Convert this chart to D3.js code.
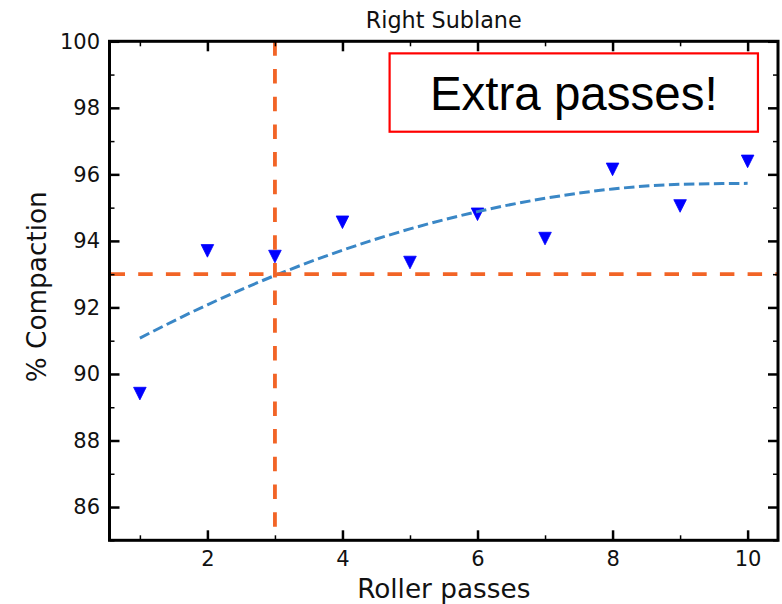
<!DOCTYPE html>
<html>
<head>
<meta charset="utf-8">
<script src="https://cdn.jsdelivr.net/npm/d3@7"></script>
<style>
  body { margin: 0; background: #fff; }
  svg { display: block; }
  .tick text { font-family: "DejaVu Sans", sans-serif; font-size: 21px; fill: #111; }
  .axis-label { font-family: "DejaVu Sans", sans-serif; font-size: 26.3px; fill: #111; }
  .title { font-family: "DejaVu Sans", sans-serif; font-size: 22.3px; fill: #111; }
  .note { font-family: "Liberation Sans", Arial, sans-serif; font-size: 47.5px; fill: #000; }
</style>
</head>
<body>
<div id="chart"></div>
<script>
// values
const passes = [1, 2, 3, 4, 5, 6, 7, 8, 9, 10];
const compaction = [89.41, 93.70, 93.53, 94.56, 93.35, 94.80, 94.07, 96.15, 95.05, 96.39];
const fitCompaction = [91.08, 92.08, 92.96, 93.72, 94.36, 94.88, 95.28, 95.56, 95.70, 95.73];
const targetCompaction = 93;
const targetPasses = 3;
const xMajorTicks = [2, 4, 6, 8, 10];
const xMinorTicks = [1, 3, 5, 7, 9];
const yMajorTicks = [86, 88, 90, 92, 94, 96, 98, 100];
const yMinorTicks = [85, 87, 89, 91, 93, 95, 97, 99];

const containerWidth = 782, containerHeight = 604;
const margin = {top: 41.3, right: 4, bottom: 63.7, left: 109.5};
const width = containerWidth - margin.left - margin.right;
const height = containerHeight - margin.top - margin.bottom;

const svg = d3.select('#chart').append('svg')
    .attr('width', containerWidth)
    .attr('height', containerHeight);

const chart = svg.append('g')
    .attr('transform', `translate(${margin.left},${margin.top})`);

const x = d3.scaleLinear().domain([0.55, 10.45]).range([0, width]);
const y = d3.scaleLinear().domain([85, 100]).range([height, 0]);

// markers first, lines over them (matplotlib order)
const tri = 6.3;
chart.selectAll('.point')
    .data(passes)
  .join('path')
    .attr('class', 'point')
    .attr('d', `M0,${tri}L${-tri},${-tri}L${tri},${-tri}Z`)
    .attr('transform', (d, i) => `translate(${x(d)},${y(compaction[i])})`)
    .attr('fill', '#0000ff')
    .attr('stroke', '#0000ff')
    .attr('stroke-width', 0.8);

// fitted curve
const line = d3.line()
    .x((d, i) => x(d))
    .y((d, i) => y(fitCompaction[i]))
    .curve(d3.curveMonotoneX);

chart.append('path')
    .datum(passes)
    .attr('d', line)
    .attr('fill', 'none')
    .attr('stroke', '#3a87c6')
    .attr('stroke-width', 3)
    .attr('stroke-dasharray', '10.5,4.5');

// target lines
chart.append('line')
    .attr('x1', 0).attr('x2', width)
    .attr('y1', y(targetCompaction)).attr('y2', y(targetCompaction))
    .attr('stroke', '#f26426')
    .attr('stroke-width', 3.8)
    .attr('stroke-dasharray', '14.5,13.2')
    .attr('stroke-dashoffset', -1);

chart.append('line')
    .attr('x1', x(targetPasses)).attr('x2', x(targetPasses))
    .attr('y1', 0).attr('y2', height)
    .attr('stroke', '#f26426')
    .attr('stroke-width', 3.8)
    .attr('stroke-dasharray', '14.5,13.2');

// axes, ticks pointing in
function styleAxis(g, w) {
    g.select('.domain').remove();
    g.selectAll('.tick line').attr('stroke', '#000').attr('stroke-width', w);
}

chart.append('g')
    .attr('transform', `translate(0,${height})`)
    .call(d3.axisBottom(x).tickValues(xMajorTicks).tickSize(-10).tickPadding(10.8).tickFormat(d3.format('d')))
    .call(g => styleAxis(g, 2.5));
chart.append('g')
    .attr('transform', `translate(0,${height})`)
    .call(d3.axisBottom(x).tickValues(xMinorTicks).tickSize(-5).tickFormat(''))
    .call(g => styleAxis(g, 1.5));
chart.append('g')
    .call(d3.axisTop(x).tickValues(xMajorTicks).tickSize(-10).tickFormat(''))
    .call(g => styleAxis(g, 2.5));
chart.append('g')
    .call(d3.axisTop(x).tickValues(xMinorTicks).tickSize(-5).tickFormat(''))
    .call(g => styleAxis(g, 1.5));

chart.append('g')
    .call(d3.axisLeft(y).tickValues(yMajorTicks).tickSize(-10).tickPadding(9.5).tickFormat(d3.format('d')))
    .call(g => styleAxis(g, 2.5));
chart.append('g')
    .call(d3.axisLeft(y).tickValues(yMinorTicks).tickSize(-5).tickFormat(''))
    .call(g => styleAxis(g, 1.5));
chart.append('g')
    .attr('transform', `translate(${width},0)`)
    .call(d3.axisRight(y).tickValues(yMajorTicks).tickSize(-10).tickFormat(''))
    .call(g => styleAxis(g, 2.5));
chart.append('g')
    .attr('transform', `translate(${width},0)`)
    .call(d3.axisRight(y).tickValues(yMinorTicks).tickSize(-5).tickFormat(''))
    .call(g => styleAxis(g, 1.5));

// frame
chart.append('rect')
    .attr('width', width)
    .attr('height', height)
    .attr('fill', 'none')
    .attr('stroke', '#000')
    .attr('stroke-width', 3);

// annotation box
const box = chart.append('g')
    .attr('transform', `translate(${width * 0.419},${height * 0.0242})`);
box.append('rect')
    .attr('width', width * 0.551)
    .attr('height', height * 0.157)
    .attr('fill', '#fff')
    .attr('stroke', '#ff0000')
    .attr('stroke-width', 2.2);
box.append('text')
    .attr('class', 'note')
    .attr('x', width * 0.551 / 2)
    .attr('y', 56.5)
    .attr('text-anchor', 'middle')
    .text('Extra passes!');

// labels
svg.append('text')
    .attr('class', 'title')
    .attr('x', margin.left + width / 2)
    .attr('y', 28.3)
    .attr('text-anchor', 'middle')
    .text('Right Sublane');

svg.append('text')
    .attr('class', 'axis-label')
    .attr('x', margin.left + width / 2)
    .attr('y', 598)
    .attr('text-anchor', 'middle')
    .text('Roller passes');

svg.append('text')
    .attr('class', 'axis-label')
    .attr('transform', `translate(45.5,${margin.top + height / 2 - 4}) rotate(-90)`)
    .attr('text-anchor', 'middle')
    .text('% Compaction');
</script>
</body>
</html>
